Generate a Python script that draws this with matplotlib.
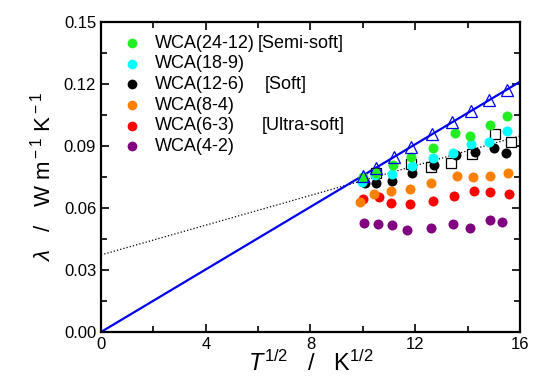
import matplotlib
matplotlib.use("Agg")
import matplotlib.pyplot as plt
from matplotlib.ticker import MultipleLocator, FormatStrFormatter

plt.rcParams['font.family'] = ['Liberation Sans', 'DejaVu Sans']
plt.rcParams['mathtext.fontset'] = 'custom'
plt.rcParams['mathtext.rm'] = 'Liberation Sans'
plt.rcParams['mathtext.it'] = 'Liberation Sans:italic'

# data: x = T^(1/2), y = lambda
x_wca24 = [10.0, 10.5, 11.16, 11.83, 12.66, 13.5, 14.1, 14.87, 15.5]
y_wca24 = [0.0752, 0.0771, 0.0806, 0.0848, 0.0890, 0.0961, 0.0948, 0.1000, 0.1045]

x_wca18 = [9.95, 10.46, 11.1, 11.86, 12.68, 13.45, 14.11, 14.82, 15.52]
y_wca18 = [0.0727, 0.0760, 0.0765, 0.0803, 0.0843, 0.0864, 0.0908, 0.0921, 0.0973]

x_wca12 = [10.1, 10.52, 11.1, 11.86, 12.71, 13.57, 14.27, 15.0, 15.48]
y_wca12 = [0.0719, 0.0719, 0.0732, 0.0771, 0.0808, 0.0856, 0.0869, 0.0889, 0.0868]

x_wca8 = [9.89, 10.43, 11.06, 11.79, 12.62, 13.61, 14.19, 14.87, 15.56]
y_wca8 = [0.0631, 0.0666, 0.0684, 0.0692, 0.0719, 0.0756, 0.0752, 0.0756, 0.0771]

x_wca6 = [10.0, 10.62, 11.06, 11.79, 12.68, 13.47, 14.24, 14.85, 15.57]
y_wca6 = [0.0642, 0.0652, 0.0623, 0.0619, 0.0635, 0.0658, 0.0684, 0.0679, 0.0666]

x_wca4 = [10.04, 10.58, 11.1, 11.7, 12.6, 13.45, 14.08, 14.87, 15.33]
y_wca4 = [0.0526, 0.0523, 0.0518, 0.0494, 0.0505, 0.0521, 0.0505, 0.0542, 0.0531]

x_sq = [10.52, 11.83, 12.6, 13.36, 14.17, 15.04, 15.64]
y_sq = [0.0768, 0.0813, 0.0797, 0.0816, 0.0860, 0.0957, 0.0920]

x_tri = [10.0, 10.49, 11.18, 11.83, 12.65, 13.42, 14.14, 14.83, 15.49]
blue_slope = 0.00757
dot_icpt, dot_slope = 0.0373, 0.0036

names = ['WCA(24-12)', 'WCA(18-9)', 'WCA(12-6)', 'WCA(8-4)', 'WCA(6-3)', 'WCA(4-2)']
tags = ['[Semi-soft]', '', '[Soft]', '', '[Ultra-soft]', '']
tag_x = [6.0, 0, 6.25, 0, 6.15, 0]
colors = ['#22ee22', '#00ffff', 'black', '#ff8000', '#ff0000', '#800080']
xs_all = [x_wca24, x_wca18, x_wca12, x_wca8, x_wca6, x_wca4]
ys_all = [y_wca24, y_wca18, y_wca12, y_wca8, y_wca6, y_wca4]

fig = plt.figure(figsize=(5.33, 3.8), dpi=100)
ax = fig.add_axes([0.1895, 0.1263, 0.7861, 0.8157])

ax.plot([0, 16], [dot_icpt, dot_icpt + dot_slope * 16], ls=':', color='black', lw=0.9, zorder=1)
ax.plot([0, 16], [0, blue_slope * 16], color='#0000ee', lw=1.6, zorder=2)
ax.plot(x_tri, [blue_slope * v for v in x_tri], ls='none', marker='^', ms=8.5,
        mfc='none', mec='#0000ee', mew=0.9, zorder=5)
ax.plot(x_sq, y_sq, ls='none', marker='s', ms=6.5, mfc='white', mec='black', mew=0.9, zorder=3)

for i in range(len(names) - 1, -1, -1):
    ax.plot(xs_all[i], ys_all[i], ls='none', marker='o', ms=7.2, color=colors[i],
            mec='none', zorder=4)

for i in range(len(names)):
    yy = 0.1398 - i * 0.0100
    ax.plot([1.2], [yy], ls='none', marker='o', ms=7, color=colors[i], mec='none')
    ax.text(2.05, yy, names[i], fontsize=13, va='center', ha='left')
    if tags[i]:
        ax.text(tag_x[i], yy, tags[i], fontsize=13, va='center', ha='left')

ax.set_xlim(0, 16)
ax.set_ylim(0, 0.15)
ax.xaxis.set_major_locator(MultipleLocator(4))
ax.xaxis.set_minor_locator(MultipleLocator(2))
ax.yaxis.set_major_locator(MultipleLocator(0.03))
ax.yaxis.set_minor_locator(MultipleLocator(0.015))
ax.yaxis.set_major_formatter(FormatStrFormatter('%.2f'))
ax.tick_params(which='both', direction='in', top=True, right=True, labelsize=12, width=1.2)
ax.tick_params(which='major', length=6)
ax.tick_params(which='minor', length=4)
for s in ax.spines.values():
    s.set_linewidth(1.6)

ax.set_xlabel(r'$\it{T}^{\rm 1/2}$   /   K$^{\rm 1/2}$', fontsize=17, labelpad=-1)
ax.set_ylabel(r'$\it{\lambda}$   /   W m$^{\rm -1}$ K$^{\rm -1}$', fontsize=16, labelpad=6)

fig.savefig('out.png', dpi=100)
